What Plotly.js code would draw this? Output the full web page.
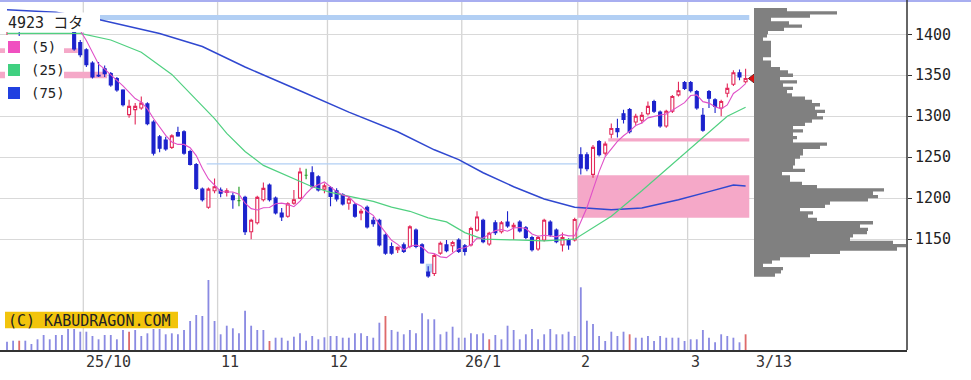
<!DOCTYPE html>
<html><head><meta charset="utf-8">
<script src="https://cdn.plot.ly/plotly-3.0.1.min.js"></script>
<style>html,body{margin:0;padding:0;background:#fff}#chart{width:971px;height:380px}</style>
</head><body><div id="chart"></div>
<script>
// ---- data (trading-day index 0 = 2025/9/10) ----
const openP  = [1406,1410,1413,1405,1416,1419,1415,1421,1418,1423,1425,1402,1390,1381,1365,1350,1358,1352,1346,1332,
 1302,1308,1310,1315,1293,1275,1271,1262,1280,1281,1257,1241,1211,1189,1209,1210,1207,1203,1197,1201,
 1159,1170,1198,1216,1200,1182,1178,1194,1200,1228,1231,1226,1211,1213,1209,1204,1194,1192,1182,1189,
 1173,1173,1155,1141,1137,1143,1141,1161,1143,1110,1108,1133,1143,1142,1149,1142,1143,1161,1173,1144,
 1170,1159,1171,1165,1171,1164,1152,1138,1149,1171,1161,1143,1149,1149,1253,1253,1229,1269,1255,1278,
 1285,1303,1308,1293,1295,1303,1318,1305,1288,1306,1326,1341,1341,1330,1301,1330,1320,1310,1328,1339,
 1353,1342];
const highP  = [1412,1416,1415,1418,1422,1424,1423,1426,1426,1426,1426,1403,1393,1383,1367,1366,1362,1354,1348,1333,
 1320,1316,1324,1317,1295,1277,1275,1278,1287,1283,1259,1243,1213,1213,1224,1213,1212,1207,1214,1203,
 1175,1203,1219,1218,1202,1188,1195,1210,1237,1236,1239,1228,1218,1215,1212,1206,1202,1194,1187,1191,
 1177,1175,1157,1146,1141,1146,1167,1163,1145,1117,1132,1147,1149,1148,1151,1144,1165,1184,1175,1159,
 1173,1172,1184,1170,1173,1166,1154,1154,1175,1173,1163,1158,1151,1176,1262,1256,1265,1271,1269,1291,
 1297,1308,1310,1303,1305,1318,1320,1307,1308,1326,1342,1343,1343,1332,1310,1332,1322,1320,1340,1356,
 1357,1358];
const lowP   = [1399,1404,1398,1403,1410,1412,1411,1415,1414,1418,1412,1380,1372,1360,1346,1348,1348,1336,1330,1312,
 1298,1290,1308,1289,1252,1256,1258,1260,1275,1253,1240,1210,1196,1187,1206,1201,1202,1187,1190,1155,
 1150,1168,1196,1196,1180,1172,1176,1192,1199,1223,1212,1208,1206,1190,1196,1191,1186,1176,1173,1163,
 1165,1141,1131,1131,1133,1133,1139,1139,1120,1103,1105,1131,1134,1134,1133,1130,1141,1159,1145,1142,
 1155,1157,1164,1149,1158,1150,1135,1136,1147,1153,1145,1135,1137,1147,1229,1233,1225,1251,1252,1273,
 1274,1291,1279,1289,1291,1301,1304,1286,1286,1304,1324,1332,1329,1308,1281,1310,1304,1300,1323,1337,
 1344,1340];
const closeP = [1410,1413,1405,1416,1419,1415,1421,1418,1423,1425,1417,1382,1375,1363,1348,1349,1352,1338,1332,1314,
 1312,1312,1316,1291,1255,1261,1260,1276,1276,1255,1241,1212,1198,1211,1214,1206,1209,1198,1197,1159,
 1173,1201,1212,1198,1182,1177,1193,1198,1232,1228,1214,1210,1215,1202,1199,1193,1199,1178,1184,1165,
 1169,1143,1133,1133,1140,1135,1165,1141,1121,1105,1130,1145,1136,1146,1135,1135,1163,1177,1147,1157,
 1158,1170,1166,1167,1160,1152,1137,1152,1173,1155,1147,1152,1143,1174,1237,1236,1262,1253,1266,1285,
 1281,1296,1281,1300,1301,1312,1306,1288,1306,1324,1331,1334,1331,1310,1283,1322,1312,1318,1334,1353,
 1348,1346];
const volume = [83,93,93,93,60,107,150,107,150,150,210,210,183,183,140,107,150,150,107,200,
 183,200,140,167,210,210,157,167,157,200,290,350,340,700,290,157,243,217,167,393,
 243,200,200,90,123,123,93,133,167,93,140,107,127,140,140,123,123,167,167,140,
 123,273,340,200,183,157,200,167,367,307,307,157,183,233,123,123,167,157,167,107,
 150,107,243,200,107,157,210,107,157,210,157,157,183,140,627,293,260,140,90,183,
 140,183,157,123,123,140,90,140,123,123,123,90,107,107,200,123,77,157,140,123,
 77,157];
const sqDays = [2,20,43,62,79,102,121];

const ma25Idx = [0,8,12,17,22,27,30,34,36,39,42,46,48,50,53,56,60,63,66,69,72,75,78,83,88,93,99,104,110,115,118,121];
const ma25Val = [1401,1401,1401,1393,1378,1351,1328,1297,1279,1257,1240,1227,1220,1214,1207,1202,1196,1189,1184,1176,1171,1158,1150,1149,1148,1150,1178,1209,1248,1281,1300,1311];
const ma75Idx = [0,8,15,25,32,39,48,56,64,70,74,78,83,88,93,99,104,110,115,119,121];
const ma75Val = [1430,1427,1418,1401,1385,1360,1331,1305,1281,1259,1247,1231,1214,1199,1189,1186,1188,1198,1208,1216,1215];

const monthStartIdx = [13,35,53,75,94,112];
const monthLabels = ['25/10','11','12','26/1','2','3'];
const lastLabel = '3/13';
const priceTicks = [1150,1200,1250,1300,1350,1400];

// volume-by-price: lower edge of each 4-yen band and its volume
const profileLevels = [1104,1108,1112,1116,1120,1124,1128,1132,1136,1140,1144,1148,1152,1156,1160,1164,1168,1172,1176,1180,
 1184,1188,1192,1196,1200,1204,1208,1212,1216,1220,1224,1228,1232,1236,1240,1244,1248,1252,1256,1260,
 1264,1268,1272,1276,1280,1284,1288,1292,1296,1300,1304,1308,1312,1316,1320,1324,1328,1332,1336,1340,
 1344,1348,1352,1356,1360,1364,1368,1372,1376,1380,1384,1388,1392,1396,1400,1404,1408,1412,1416,1420,
 1424,1428];
const profileVol = [21,27,29,9,18,26,56,86,143,152,139,96,99,113,114,106,119,63,54,59,
 46,71,76,114,124,119,130,63,48,36,36,28,51,39,41,41,46,49,49,66,
 73,39,43,39,49,39,51,58,69,63,71,61,66,58,51,38,33,39,29,43,
 26,39,34,26,17,17,9,17,17,17,17,17,9,13,14,30,48,35,17,56,
 83,33];
const profileStep = 4;

// price gaps (windows): start/end trading index, price low/high, direction
const gapStart = [-2, -2, 10.5, 32.7, 68.6, 93.5, 98.5];
const gapEnd   = [11.6, 16.4, 121.6, 93.5, 69.9, 121.6, 121.6];
const gapLow   = [1377, 1346.3, 1417.4, 1241, 1109.3, 1176, 1269];
const gapHigh  = [1383, 1354.4, 1423.5, 1242.6, 1120, 1228, 1273];
const gapUp    = [true, true, false, false, false, true, true];

const stockCode = '4923', stockName = 'コタ';
const maLabels = ['(5)','(25)','(75)'];
const copyright = '(C) KABUDRAGON.COM';

// ---- styling / geometry ----
const W = 971, H = 380, ML = 0, MR = 64, MT = 0, MB = 30;
const PW = W - ML - MR, PH = H - MT - MB;
const px = x => x / PW, py = y => 1 - y / PH;
const FONT = 'DejaVu Sans Mono, Noto Sans CJK JP, monospace';
const RED = '#e3285a', BLUE = '#1c22cc', GREEN_DOJI = '#2aa02a';
const C5 = '#e050c8', C25 = '#50d080', C75 = '#3048d0';
const PINK = '#f5a8c8', LBLUE = '#b2cff4';

const idx = closeP.map((_, i) => i);
const isDoji = i => openP[i] === closeP[i];
const pick = (arr, f) => idx.filter(f).map(i => arr[i]);

const ma5x = [], ma5y = [];
for (let i = 4; i < closeP.length; i++) {
  let s = 0; for (let j = i - 4; j <= i; j++) s += closeP[j];
  ma5x.push(i); ma5y.push(s / 5);
}

// stepped outline of the volume profile
const profX = [0], profY = [profileLevels[0]];
profileLevels.forEach((lv, i) => {
  profX.push(profileVol[i], profileVol[i]);
  profY.push(lv, lv + profileStep);
});
profX.push(0); profY.push(profileLevels[profileLevels.length - 1] + profileStep);

const traces = [
  {type:'bar', x: idx, y: volume, xaxis:'x', yaxis:'y2', width:0.3,
   marker:{color: idx.map(i => sqDays.includes(i) ? '#de6a6a' : '#8a8ae2'), line:{width:0}},
   hoverinfo:'skip', showlegend:false},
  {type:'scatter', mode:'lines', x: profX, y: profY, xaxis:'x2', yaxis:'y', fill:'toself',
   fillcolor:'#808080', line:{width:0, color:'#808080'}, hoverinfo:'skip', showlegend:false},
  {type:'scatter', mode:'lines', x: ma75Idx, y: ma75Val, line:{color:C75, width:1.5}, hoverinfo:'skip', showlegend:false},
  {type:'scatter', mode:'lines', x: ma25Idx, y: ma25Val, line:{color:C25, width:1.2}, hoverinfo:'skip', showlegend:false},
  {type:'scatter', mode:'lines', x: ma5x, y: ma5y, line:{color:C5, width:1.1}, hoverinfo:'skip', showlegend:false},
  {type:'candlestick', x: pick(idx, i => !isDoji(i)), open: pick(openP, i => !isDoji(i)),
   high: pick(highP, i => !isDoji(i)), low: pick(lowP, i => !isDoji(i)), close: pick(closeP, i => !isDoji(i)),
   xaxis:'x', yaxis:'y', whiskerwidth:0,
   increasing:{line:{color:RED, width:1.1}, fillcolor:'#ffffff'},
   decreasing:{line:{color:BLUE, width:1.1}, fillcolor:BLUE},
   hoverinfo:'skip', showlegend:false},
  {type:'candlestick', x: pick(idx, isDoji), open: pick(openP, isDoji), high: pick(highP, isDoji),
   low: pick(lowP, isDoji), close: pick(closeP, isDoji), xaxis:'x', yaxis:'y', whiskerwidth:0,
   increasing:{line:{color:GREEN_DOJI, width:1.2}, fillcolor:GREEN_DOJI},
   decreasing:{line:{color:GREEN_DOJI, width:1.2}, fillcolor:GREEN_DOJI},
   hoverinfo:'skip', showlegend:false},
  {type:'scatter', mode:'markers', x:[closeP.length - 1 + 1.35], y:[closeP[closeP.length - 1]],
   marker:{symbol:'triangle-left', size:11, color:'#e01010', line:{color:'#702020', width:1}},
   hoverinfo:'skip', showlegend:false, cliponaxis:false}
];

const shapes = [];
monthStartIdx.forEach(m => shapes.push({type:'line', xref:'x', yref:'paper', x0:m-0.5, x1:m-0.5, y0:0, y1:1,
  line:{color:'#d4d4d4', width:1.3}, layer:'below'}));
gapStart.forEach((s, i) => shapes.push({type:'rect', xref:'x', yref:'y', x0:s, x1:gapEnd[i], y0:gapLow[i], y1:gapHigh[i],
  fillcolor: gapUp[i] ? PINK : LBLUE, line:{width:0}, layer:'between'}));
// frame
shapes.push({type:'line', xref:'paper', yref:'paper', x0:0, x1:W/PW, y0:py(1), y1:py(1), line:{color:'#a8aef0', width:2}, layer:'above'});
shapes.push({type:'line', xref:'paper', yref:'paper', x0:1, x1:1, y0:0, y1:1, line:{color:'#333333', width:1.5}, layer:'above'});
// title / legend backgrounds
shapes.push({type:'rect', xref:'paper', yref:'paper', x0:0, x1:px(100), y0:py(32), y1:py(12.5), fillcolor:'#ffffff', line:{width:0}, layer:'above'});
shapes.push({type:'rect', xref:'paper', yref:'paper', x0:px(5), x1:px(64), y0:py(102), y1:py(37), fillcolor:'#ffffff', line:{width:0}, layer:'above'});
[['#f050c0',41],['#40d080',64],['#2040e0',87]].forEach(([c, y]) =>
  shapes.push({type:'rect', xref:'paper', yref:'paper', x0:px(8), x1:px(20), y0:py(y+12), y1:py(y), fillcolor:c, line:{width:0}, layer:'above'}));
shapes.push({type:'rect', xref:'paper', yref:'paper', x0:px(5), x1:px(178), y0:py(328.3), y1:py(311.7), fillcolor:'#f2c40c', line:{width:0}, layer:'above'});

const annotations = [];
const txt = (text, x, y, size, extra) => Object.assign({text, xref:'paper', yref:'paper', x:px(x), y:py(y),
  xanchor:'left', yanchor:'middle', showarrow:false, font:{family:FONT, size, color:'#222'}}, extra || {});
annotations.push(txt(stockCode + ' ' + stockName, 6, 23, 15));
maLabels.forEach((t, i) => annotations.push(txt(t, 29, [47, 70, 93][i], 14)));
annotations.push(txt(copyright, 6, 320.5, 15));
monthStartIdx.forEach((m, i) => annotations.push({text: monthLabels[i], xref:'x', yref:'paper', x:m-0.5, y:py(351),
  xanchor:'left', yanchor:'top', xshift:1, showarrow:false, font:{family:FONT, size:15, color:'#333'}}));
annotations.push({text:lastLabel, xref:'x', yref:'paper', x:closeP.length - 0.5, y:py(351), xanchor:'left', yanchor:'top',
  xshift:5, showarrow:false, font:{family:FONT, size:15, color:'#333'}});

const volDom = (350 - 278) / PH;
const layout = {
  width:W, height:H, margin:{l:ML, r:MR, t:MT, b:MB}, paper_bgcolor:'#ffffff', plot_bgcolor:'rgba(0,0,0,0)',
  showlegend:false, dragmode:false, boxgap:0.3,
  xaxis:{domain:[0,1], range:[-1.147, 147.44], anchor:'y2', showgrid:false, zeroline:false, showticklabels:false,
    ticks:'', showline:true, linecolor:'#333333', linewidth:1.5, rangeslider:{visible:false}, fixedrange:true},
  xaxis2:{domain:[754/PW, 1], range:[0, 153], anchor:'y', visible:false, fixedrange:true},
  yaxis:{domain:[volDom, 1], range:[1102.6, 1441.8], side:'right', anchor:'x', tickvals:priceTicks,
    ticks:'outside', ticklen:4, tickcolor:'#333', tickwidth:1.3, showgrid:true, gridcolor:'#d9d9d9', gridwidth:1.2,
    zeroline:false, showline:false, tickfont:{family:FONT, size:15, color:'#222'}, fixedrange:true},
  yaxis2:{domain:[0, volDom], range:[0, 720], anchor:'x', showgrid:false, zeroline:false, showticklabels:false,
    ticks:'', fixedrange:true},
  shapes, annotations
};
Plotly.newPlot('chart', traces, layout, {displayModeBar:false, staticPlot:true});
</script></body></html>
